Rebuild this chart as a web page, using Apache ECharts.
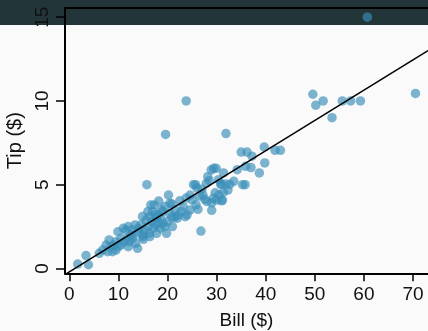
<!DOCTYPE html>
<html>
<head>
<meta charset="utf-8">
<script src="https://cdn.jsdelivr.net/npm/echarts@6/dist/echarts.min.js"></script>
<style>
  html, body { margin: 0; padding: 0; background: #fafafa; }
  #chart { width: 428px; height: 331px; }
</style>
</head>
<body>
<div id="chart"></div>
<script>
// Restaurant bills and the tips left on them (dollars)
const bills = [
  60.7, 49.6, 50.2, 51.7, 53.5, 55.6, 57.3, 59.3, 70.5, 23.8,
  19.6, 31.9, 35.0, 36.2, 37.2, 39.7, 41.9, 43.0, 39.8, 38.7,
  37.0, 35.9, 35.8, 35.3, 31.4, 31.0, 32.7, 32.3, 31.2, 29.4,
  29.9, 28.9, 28.2, 28.5, 27.9, 30.8, 31.9, 27.0, 29.7, 31.4,
  27.6, 29.3, 30.0, 31.0, 29.0, 29.0, 26.2, 26.8, 25.3, 25.7,
  15.8, 20.2, 18.2, 17.3, 14.9, 21.5, 22.5, 24.6, 26.5, 20.9,
  23.2, 24.6, 16.4, 18.1, 20.9, 22.2, 23.6, 18.1, 19.1, 17.1,
  18.5, 19.8, 17.8, 15.1, 1.7, 3.4, 3.9, 6.8, 7.5, 8.1,
  9.5, 9.9, 10.5, 11.5, 11.9, 9.5, 8.8, 7.8, 12.9, 13.9,
  14.9, 15.6, 17.0, 16.6, 12.2, 10.5, 6.1, 20.5,
  11.0, 12.0, 12.8, 13.4, 13.0, 14.2, 14.6, 15.3, 15.0, 16.0,
  16.3, 16.8, 17.5, 17.8, 18.6, 19.0, 19.4, 20.0, 20.4, 21.0,
  21.5, 22.0, 19.5, 18.8, 16.0, 17.5, 9.0, 10.0, 11.2, 12.5,
  13.5, 8.5, 14.0, 22.8, 23.8, 24.0, 25.0, 25.8, 27.2, 28.0,
  26.0, 30.4, 33.5, 34.2, 30.5, 16.4, 12.0
];
const tips = [
  15.0, 10.4, 9.75, 10.0, 9.0, 10.0, 10.0, 10.0, 10.45, 10.0,
  8.0, 8.05, 6.95, 6.95, 6.7, 7.25, 7.05, 7.05, 6.3, 5.7,
  6.02, 6.1, 5.0, 5.0, 5.7, 5.02, 5.02, 4.68, 4.08, 5.98,
  5.98, 5.88, 5.48, 5.24, 5.08, 5.04, 5.04, 4.73, 4.52, 4.55,
  4.13, 4.19, 4.09, 4.04, 3.92, 3.47, 3.53, 2.23, 5.0, 5.0,
  5.0, 4.38, 4.02, 3.79, 3.1, 3.07, 4.04, 4.38, 4.32, 3.85,
  3.69, 3.49, 3.09, 3.19, 3.05, 3.19, 3.09, 2.69, 2.69, 2.4,
  2.4, 2.1, 2.1, 1.74, 0.26, 0.77, 0.22, 1.1, 1.4, 1.7,
  1.6, 2.19, 1.8, 2.29, 1.8, 1.1, 1.0, 1.0, 1.8, 1.2,
  1.89, 2.89, 3.39, 3.79, 1.6, 1.4, 0.9, 3.89,
  2.4, 2.5, 2.3, 2.6, 2.0, 2.2, 2.6, 2.3, 2.0, 2.5,
  2.1, 2.8, 2.6, 3.0, 3.0, 3.4, 2.5, 2.8, 3.3, 2.5,
  3.5, 3.0, 3.7, 3.5, 3.4, 3.2, 1.4, 1.3, 1.6, 2.0,
  1.5, 1.3, 2.4, 3.4, 4.2, 3.2, 4.1, 3.8, 4.4, 4.0,
  4.8, 5.3, 5.2, 5.9, 4.4, 1.9, 1.3
];

// Fitted trend line, drawn between its two end points
const fitX = [-0.5, 73.05];
const fitY = [-0.29, 13.0];

// Tick positions and their labels
const xTicks = [0, 10, 20, 30, 40, 50, 60, 70];
const yTicks = [0, 5, 10, 15];

const points = bills.map((b, i) => [b, tips[i]]);
const fitLine = fitX.map((x, i) => [x, fitY[i]]);

const font = '"Liberation Sans", Arial, sans-serif';
const chart = echarts.init(document.getElementById('chart'), null, { renderer: 'canvas' });

chart.setOption({
  animation: false,
  backgroundColor: {
    type: 'linear', x: 0, y: 0, x2: 0, y2: 1,
    colorStops: [
      { offset: 0, color: '#22363a' },
      { offset: 25 / 331, color: '#22363a' },
      { offset: 25 / 331, color: '#fafafa' },
      { offset: 1, color: '#fafafa' }
    ]
  },
  grid: { left: 65, right: 0, top: 8, bottom: 57.7, containLabel: false, outerBoundsMode: 'none' },
  xAxis: [
    {
      type: 'value',
      position: 'bottom',
      min: -0.88, max: 73.05,
      splitLine: { show: false },
      axisLine: { show: true, onZero: false, lineStyle: { color: '#000', width: 2 } },
      axisTick: { show: true, customValues: xTicks, length: 8, lineStyle: { color: '#000', width: 1.5 } },
      axisLabel: { customValues: xTicks, color: '#111', fontSize: 19, fontFamily: font, margin: 12 },
      name: 'Bill ($)',
      nameLocation: 'middle',
      nameGap: 38,
      nameTextStyle: { color: '#111', fontSize: 19, fontFamily: font }
    },
    {
      type: 'value',
      position: 'top',
      min: -0.88, max: 73.05,
      splitLine: { show: false },
      axisLine: { show: true, onZero: false, lineStyle: { color: '#000', width: 2 } },
      axisTick: { show: false },
      axisLabel: { show: false }
    }
  ],
  yAxis: {
    type: 'value',
    min: -0.29, max: 15.55,
    splitLine: { show: false },
    axisLine: { show: true, onZero: false, lineStyle: { color: '#000', width: 2 } },
    axisTick: { show: true, customValues: yTicks, length: 9, lineStyle: { color: '#000', width: 1.5 } },
    axisLabel: { customValues: yTicks, rotate: 90, color: '#111', fontSize: 19, fontFamily: font, margin: 13 },
    name: 'Tip ($)',
    nameLocation: 'middle',
    nameGap: 36,
    nameTextStyle: { color: '#111', fontSize: 20, fontFamily: font }
  },
  series: [
    {
      type: 'scatter',
      data: points,
      symbolSize: 9.5,
      itemStyle: { color: '#398eb9', opacity: 0.66 },
      z: 2
    },
    {
      type: 'line',
      data: fitLine,
      showSymbol: false,
      symbol: 'none',
      lineStyle: { color: '#000', width: 1.5 },
      silent: true,
      z: 3
    }
  ]
});
</script>
</body>
</html>
